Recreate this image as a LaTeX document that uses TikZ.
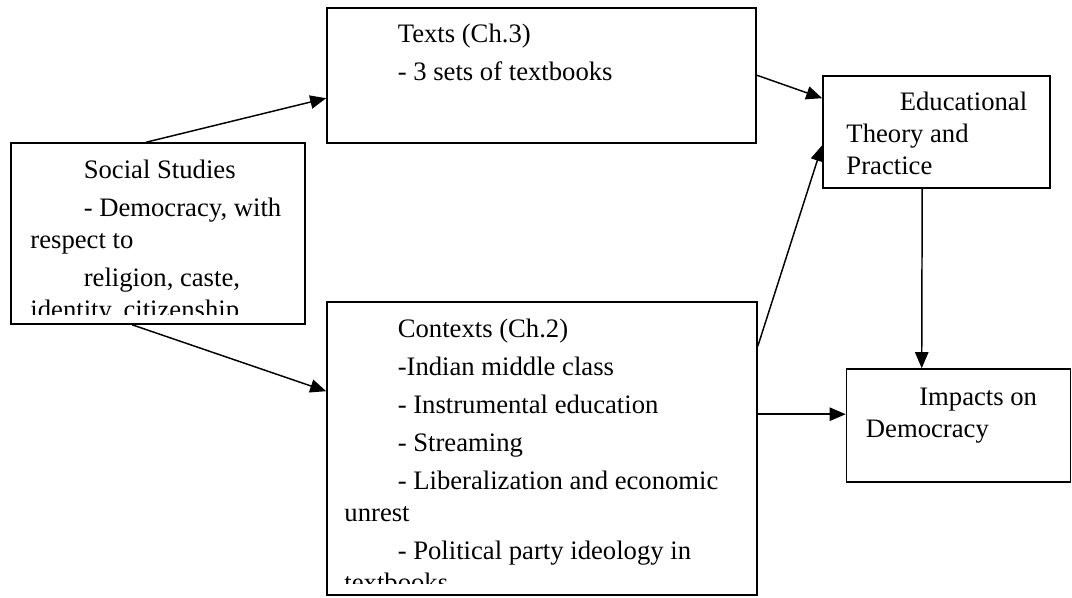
\documentclass[tikz,border=0pt]{standalone}
\usepackage{fontspec}
\setmainfont{Liberation Serif}
\usetikzlibrary{arrows.meta}
\newcommand{\ind}{\hspace*{40pt}}

\begin{document}
\begin{tikzpicture}[
    x=0.75pt, y=-0.75pt,
    box/.style={draw, line width=1.2pt, rectangle, inner sep=0pt},
    txt/.style={anchor=north west, inner sep=0pt, align=left, font=\fontsize{20pt}{24pt}\selectfont},
    link/.style={-{Triangle[length=12pt,width=10pt]}, line width=1.1pt}
]
\useasboundingbox (0,0) rectangle (1072,597);

\node[box, minimum width=321.75pt, minimum height=101.25pt] (texts) at (541.5,75.5) {};
\node[box, minimum width=220.5pt, minimum height=135.75pt] (social) at (158,233.5) {};
\node[box, minimum width=322.5pt, minimum height=219.75pt] (contexts) at (542,448.5) {};
\node[box, minimum width=170.25pt, minimum height=84pt] (theory) at (936.5,132) {};
\node[box, minimum width=168pt, minimum height=84.75pt] (impacts) at (958.5,425.5) {};

\node[txt] (textslabel) at ([shift={(18,17)}]texts.north west)
    {\ind Texts (Ch.3)\\[4.5pt]\ind - 3 sets of textbooks};
\begin{scope}
\clip (social.north west) rectangle ([shift={(0,-10)}]social.south east);
\node[txt] (sociallabel) at ([shift={(20,18)}]social.north west)
    {\ind Social Studies\\[4.5pt]\ind - Democracy, with\\respect to\\[4.5pt]\ind religion, caste,\\identity, citizenship};
\end{scope}
\begin{scope}
\clip (contexts.north west) rectangle ([shift={(0,-12)}]contexts.south east);
\node[txt] (contextslabel) at ([shift={(18,18)}]contexts.north west)
    {\ind Contexts (Ch.2)\\[4.5pt]\ind -Indian middle class\\[4.5pt]\ind - Instrumental education\\[4.5pt]\ind - Streaming\\[4.5pt]\ind - Liberalization and economic\\unrest\\[4.5pt]\ind - Political party ideology in\\textbooks};
\end{scope}
\node[txt] (theorylabel) at ([shift={(24,17)}]theory.north west)
    {\ind Educational\\Theory and\\Practice};
\node[txt] (impactslabel) at ([shift={(20,20)}]impacts.north west)
    {\ind Impacts on\\Democracy};

\draw[link] ([shift={(136,0)}]social.north west) -- ([shift={(0,91)}]texts.north west);
\draw[link] ([shift={(122,0)}]social.south west) -- ([shift={(0,90)}]contexts.north west);
\draw[link] ([shift={(0,68)}]texts.north east) -- ([shift={(0,23)}]theory.north west);
\draw[link] ([shift={(0,45)}]contexts.north east) -- ([shift={(0,70)}]theory.north west);
\draw[link] ([shift={(100,0)}]theory.south west) -- ([shift={(76,0)}]impacts.north west);
\draw[link] ([shift={(0,113)}]contexts.north east) -- ([shift={(0,46)}]impacts.north west);
\end{tikzpicture}
\end{document}
